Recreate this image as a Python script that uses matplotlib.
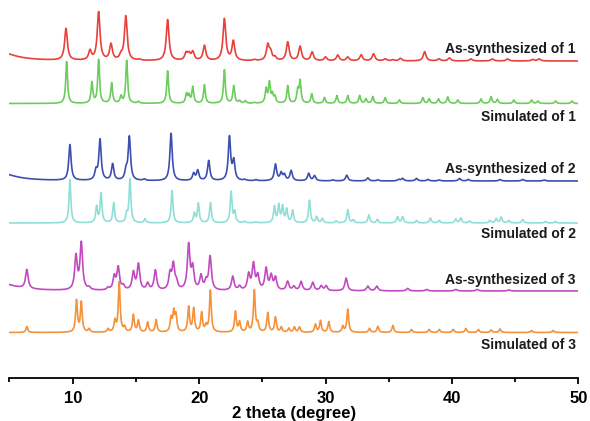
import numpy as np
import matplotlib
matplotlib.use('Agg')
import matplotlib.pyplot as plt

plt.rcParams['font.family'] = ['Liberation Sans', 'DejaVu Sans']

# peak lists: 2 theta (deg) and relative intensity
as1_pos = [4.0, 9.47, 11.37, 12.05, 13.03, 13.82, 14.2, 15.27, 17.51, 18.97, 19.2, 19.5,
           20.42, 22.0, 22.71, 24.37, 25.43, 25.65, 26.0, 27.01, 27.99, 28.94, 30.0, 30.97,
           31.76, 32.82, 33.8, 34.72, 35.33, 35.93, 37.84, 38.97, 39.8, 41.5, 43.2, 44.4,
           46.4, 46.9]
as1_int = [10, 31.7, 9.3, 48.3, 16, 4.3, 44.3, 1, 41, 7, 6, 8.3,
           15, 41.7, 19.3, 1, 15.3, 8, 3, 18.7, 14.3, 8.7, 3.7, 5.7,
           3.7, 6, 7, 2, 1, 2.5, 9.3, 2, 3, 2, 2, 2,
           1.5, 2]

sim1_pos = [9.52, 11.52, 12.05, 13.08, 13.82, 14.27, 15.2, 17.51, 19.0, 19.2, 19.5, 20.42,
            22.0, 22.74, 23.2, 23.66, 24.37, 25.3, 25.56, 25.8, 26.0, 27.01, 27.8, 27.99,
            28.91, 29.92, 30.9, 31.76, 32.7, 33.2, 33.74, 34.72, 35.85, 37.7, 38.2, 38.94,
            39.67, 40.47, 42.3, 43.1, 43.6, 44.9, 46.3, 46.8, 48.2, 49.5]
sim1_int = [41.8, 20.8, 43.5, 20.2, 6.8, 42.8, 1.8, 32.5, 9.2, 7.5, 16.2, 18.5,
            33.5, 17.5, 2.5, 2.5, 0.8, 14, 20.2, 8.5, 6, 17.5, 12.8, 21.8,
            9.5, 5.8, 7.8, 7.8, 7.8, 4.5, 6.8, 5.8, 3.5, 5.8, 4.5, 4.5,
            6.5, 3.5, 4.5, 6.8, 4, 3.5, 3.5, 2.5, 2.5, 2.5]

as2_pos = [4.0, 9.78, 11.84, 12.16, 13.16, 14.22, 14.48, 15.67, 17.78, 19.57, 19.89, 20.76,
           22.4, 22.74, 23.6, 24.5, 26.04, 26.49, 26.75, 27.28, 28.67, 29.13, 30.58, 31.68,
           33.35, 34.14, 35.8, 36.1, 37.2, 38.1, 39.0, 40.6, 41.3, 43.8, 45.6, 47.3]
as2_int = [9, 35.7, 9, 40.7, 16.4, 9, 43.4, 1.4, 47.4, 7, 10, 20,
           43.4, 19, 1, 1, 16.4, 7.4, 5.7, 10, 7.4, 5, 1, 5.7,
           3, 1, 1.5, 2.5, 2.5, 1.5, 1, 2.5, 1.5, 1.5, 1.5, 1]

sim2_pos = [9.78, 11.89, 12.24, 13.24, 14.27, 14.53, 15.72, 17.86, 19.62, 19.94, 20.9, 22.53,
            22.82, 23.6, 24.5, 25.96, 26.3, 26.6, 26.93, 27.4, 28.73, 29.3, 29.74, 30.84,
            31.76, 32.2, 33.43, 34.1, 35.7, 36.1, 37.2, 38.3, 39.0, 40.3, 40.7, 41.4,
            43.0, 43.5, 43.9, 44.5, 45.6, 47.4, 48.2]
sim2_int = [43.3, 16, 29.3, 20, 8.3, 43.3, 4, 32.3, 9.6, 19.3, 20, 31,
            10.6, 1.5, 1, 16, 17.3, 16, 13.3, 12.3, 22.6, 6, 4.3, 2,
            13.3, 3, 8, 3.5, 6.3, 6.3, 2.5, 5, 2.5, 4, 5, 2,
            2.5, 4.3, 6, 2.5, 3.5, 1.5, 1.5]

as3_pos = [4.0, 6.37, 10.26, 10.68, 11.3, 12.8, 13.29, 13.6, 14.0, 14.8, 15.2, 15.93,
           16.54, 17.7, 17.96, 18.2, 19.17, 19.49, 20.15, 20.55, 20.87, 22.66, 23.2, 23.92,
           24.3, 24.64, 25.3, 25.7, 26.04, 27.0, 27.5, 28.07, 28.99, 29.66, 30.05, 31.63,
           33.35, 34.06, 36.5, 38.0, 40.3, 42.0, 44.5]
as3_int = [9, 19, 33.4, 46.7, 2.3, 2.3, 13.3, 22.4, 4, 17.4, 25.7, 6.7,
           20, 15.7, 24.7, 7, 44.7, 21.4, 14, 8, 33.4, 14, 4, 15.7,
           25.7, 14, 21.4, 14, 12.4, 9, 4, 9, 8.3, 4.7, 4.7, 12.7,
           4.7, 4.7, 2.5, 1.5, 1.5, 1.5, 1]

sim3_pos = [6.37, 10.3, 10.68, 11.3, 12.8, 13.34, 13.68, 14.1, 14.8, 15.2, 15.93, 16.6,
            17.78, 17.99, 18.17, 19.17, 19.57, 20.2, 20.55, 20.89, 22.87, 23.2, 23.84, 24.37,
            24.64, 25.43, 26.04, 26.5, 27.1, 27.54, 27.94, 29.2, 29.6, 30.26, 31.37, 31.76,
            33.48, 34.14, 35.33, 36.8, 38.2, 39.0, 40.1, 41.1, 42.1, 43.1, 43.8, 46.3, 48.0]
sim3_int = [6, 31.6, 30, 3.3, 3.3, 11, 50, 5, 17.3, 11.6, 10, 12.6,
            13.3, 19.3, 16, 25, 23.3, 19.3, 6, 41.6, 20.6, 10, 10, 41.6,
            8, 19.3, 15, 5, 4, 5.3, 5.3, 8, 11.6, 10.6, 6, 23,
            4, 6, 7, 3, 3, 3, 3, 4, 3, 2.5, 3.5, 2, 2]

labels = ['As-synthesized of 1', 'Simulated of 1', 'As-synthesized of 2',
          'Simulated of 2', 'As-synthesized of 3', 'Simulated of 3']

tt = np.linspace(5, 50, 6000)


def pattern(pos, inten, fwhm):
    y = np.zeros_like(tt)
    for p, h in zip(pos, inten):
        w = 3.0 if p < 5 else fwhm  # broad low-angle background hump
        y += h / (1 + ((tt - p) / (w / 2)) ** 2)
    return y


traces = [
    (as1_pos, as1_int, 0.26, 316.7, '#e8403a', 49),
    (sim1_pos, sim1_int, 0.17, 274.2, '#6ccc5c', 116.5),
    (as2_pos, as2_int, 0.22, 196.7, '#3d4fae', 169.5),
    (sim2_pos, sim2_int, 0.17, 154.7, '#8fdfd6', 234),
    (as3_pos, as3_int, 0.24, 86.7, '#c04bc0', 280),
    (sim3_pos, sim3_int, 0.17, 45.2, '#f5913a', 345),
]

fig = plt.figure(figsize=(5.9, 4.21), dpi=100)
ax = fig.add_axes([0.0161, 1 - 377.7 / 421, 0.9802 - 0.0161, 377.7 / 421])

for (pos, inten, fw, off, col, ly), lab in zip(traces, labels):
    ax.plot(tt, pattern(pos, inten, fw) + off, color=col, lw=1.2)
    ax.text(49.8, 377.7 - ly, lab, ha='right', va='center', fontsize=10,
            fontweight='bold', color='#1a1a1a')

ax.set_xlim(5, 50)
ax.set_ylim(0, 377.7)
for s in ['top', 'right', 'left']:
    ax.spines[s].set_visible(False)
ax.spines['bottom'].set_linewidth(1.3)
ax.set_yticks([])
ax.set_xticks([10, 20, 30, 40, 50])
ax.set_xticks([5, 15, 25, 35, 45], minor=True)
ax.tick_params(axis='x', which='major', direction='out', length=4.5, width=1.3,
               labelsize=12, pad=5)
ax.tick_params(axis='x', which='minor', direction='out', length=3, width=1.3)
for t in ax.get_xticklabels():
    t.set_fontweight('bold')
ax.set_xlabel('2 theta (degree)', fontsize=12, fontweight='bold', labelpad=0)

fig.savefig('out.png', dpi=100)
